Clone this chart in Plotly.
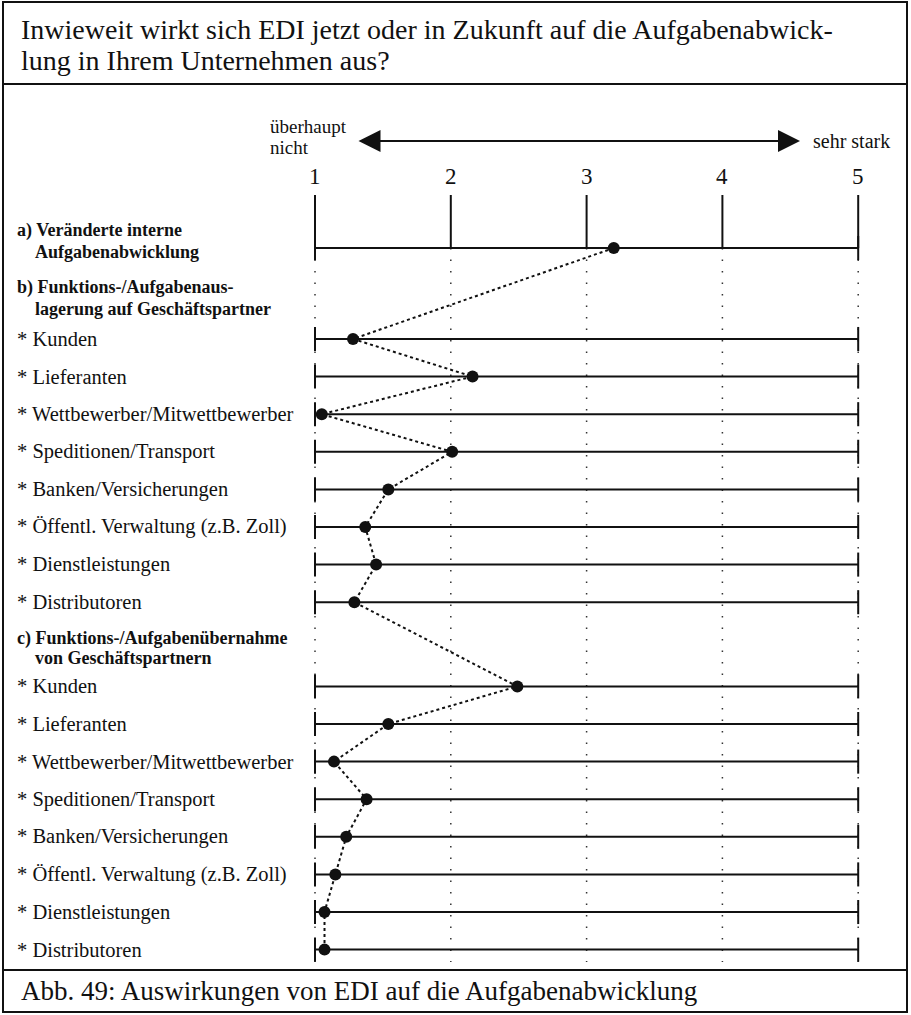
import plotly.graph_objects as go

# ---------------- data ----------------
title_lines = ["Inwieweit wirkt sich EDI jetzt oder in Zukunft auf die Aufgabenabwick-",
               "lung in Ihrem Unternehmen aus?"]
caption = "Abb. 49: Auswirkungen von EDI auf die Aufgabenabwicklung"
scale_ticks = [1, 2, 3, 4, 5]
scale_low = ["überhaupt", "nicht"]
scale_high = "sehr stark"

section_a = ["a) Veränderte interne", "Aufgabenabwicklung"]
section_b = ["b) Funktions-/Aufgabenaus-", "lagerung auf Geschäftspartner"]
section_c = ["c) Funktions-/Aufgabenübernahme", "von Geschäftspartnern"]
partners = ["Kunden", "Lieferanten", "Wettbewerber/Mitwettbewerber", "Speditionen/Transport",
            "Banken/Versicherungen", "Öffentl. Verwaltung (z.B. Zoll)", "Dienstleistungen",
            "Distributoren"]
value_a = [3.2]
values_b = [1.28, 2.16, 1.05, 2.01, 1.54, 1.37, 1.45, 1.29]
values_c = [2.49, 1.54, 1.14, 1.38, 1.23, 1.15, 1.07, 1.07]

# ---------------- geometry ----------------
W, H = 911, 1015
X1_PX, UNIT_X = 315.0, 135.8        # pixel of scale value 1, pixels per scale unit
ROW0_PX, UNIT_Y = 248.0, 37.6       # pixel of first row, pixels per row

def px_x(p):
    return p / W

def px_y(p):
    return 1 - p / H

def ry(p):  # pixel -> row units
    return (p - ROW0_PX) / UNIT_Y

xmin, xmax = scale_ticks[0], scale_ticks[-1]
x_range = [1 - X1_PX / UNIT_X, 1 + (W - X1_PX) / UNIT_X]
y_range = [(H - ROW0_PX) / UNIT_Y, -ROW0_PX / UNIT_Y]

y_a = [0.0]
y_b = [2.42 + i for i in range(len(partners))]
y_c = [11.66 + i for i in range(len(partners))]
all_y = y_a + y_b + y_c
all_v = value_a + values_b + values_c

SERIF = "Liberation Serif, Times New Roman, serif"
BLACK = "#111111"

fig = go.Figure()

# dotted vertical guides
gx, gy = [], []
for t in scale_ticks:
    gx += [t, t, None]
    gy += [0, all_y[-1] + 0.33, None]
fig.add_trace(go.Scatter(x=gx, y=gy, mode="lines", hoverinfo="skip",
                         line=dict(color="#333333", width=1.5, dash="1.5px,10px")))

# solid tick lines at top
tx, ty = [], []
for t in scale_ticks:
    tx += [t, t, None]
    ty += [ry(195), 0, None]
fig.add_trace(go.Scatter(x=tx, y=ty, mode="lines", hoverinfo="skip",
                         line=dict(color=BLACK, width=2)))

# row lines with end ticks
lx, ly = [], []
for yy in all_y:
    lx += [xmin, xmax, None]
    ly += [yy, yy, None]
    for e in (xmin, xmax):
        lx += [e, e, None]
        ly += [yy - 0.32, yy + 0.32, None]
fig.add_trace(go.Scatter(x=lx, y=ly, mode="lines", hoverinfo="skip",
                         line=dict(color=BLACK, width=2)))

# profile line
fig.add_trace(go.Scatter(x=all_v, y=all_y, mode="lines+markers",
                         line=dict(color=BLACK, width=2, dash="dot"),
                         marker=dict(color=BLACK, size=12)))

ann = []
def text(x, y, s, size, bold=False, xref="paper", yref="y", xanchor="left"):
    ann.append(dict(x=x, y=y, xref=xref, yref=yref, text=("<b>%s</b>" % s) if bold else s,
                    showarrow=False, xanchor=xanchor, yanchor="middle",
                    font=dict(family=SERIF, size=size, color=BLACK)))

# title and caption
text(px_x(19), px_y(30), title_lines[0], 28, yref="paper")
text(px_x(19), px_y(61), title_lines[1], 28, yref="paper")
text(px_x(19), px_y(991), caption, 27, yref="paper")

# scale header
text(px_x(268), px_y(127), scale_low[0], 19, yref="paper")
text(px_x(268), px_y(147), scale_low[1], 19, yref="paper")
text(px_x(811), px_y(141), scale_high, 20, yref="paper")
ann.append(dict(x=px_x(800), y=px_y(141), ax=357 - 800, ay=0,
                xref="paper", yref="paper", axref="pixel", ayref="pixel",
                text="", showarrow=True, arrowhead=2, arrowside="end+start",
                arrowsize=2.2, arrowwidth=2, arrowcolor=BLACK, standoff=0, startstandoff=0))
for t in scale_ticks:
    text(t, ry(176), str(t), 23, xref="x", xanchor="center")

# section headers
text(px_x(15), ry(230), section_a[0], 18, bold=True)
text(px_x(33), ry(252), section_a[1], 18, bold=True)
text(px_x(15), ry(287), section_b[0], 18, bold=True)
text(px_x(33), ry(309), section_b[1], 18, bold=True)
text(px_x(15), y_b[-1] + 0.96, section_c[0], 18, bold=True)
text(px_x(33), y_c[0] - 0.76, section_c[1], 18, bold=True)

for yy, name in zip(y_b + y_c, partners + partners):
    text(px_x(15), yy, "* " + name, 20.5)

# frames
shapes = []
for top, bot in [(2, 84), (84, 970), (970, 1012)]:
    shapes.append(dict(type="rect", xref="paper", yref="paper",
                       x0=px_x(3), x1=px_x(907), y0=px_y(bot), y1=px_y(top),
                       line=dict(color=BLACK, width=2)))

fig.update_layout(
    width=W, height=H, margin=dict(l=0, r=0, t=0, b=0),
    paper_bgcolor="white", plot_bgcolor="white", showlegend=False,
    xaxis=dict(range=x_range, visible=False, fixedrange=True),
    yaxis=dict(range=y_range, visible=False, fixedrange=True),
    annotations=ann, shapes=shapes,
)

fig.write_html("out.html", config={"displayModeBar": False},
               post_script="document.body.style.margin='0';")
